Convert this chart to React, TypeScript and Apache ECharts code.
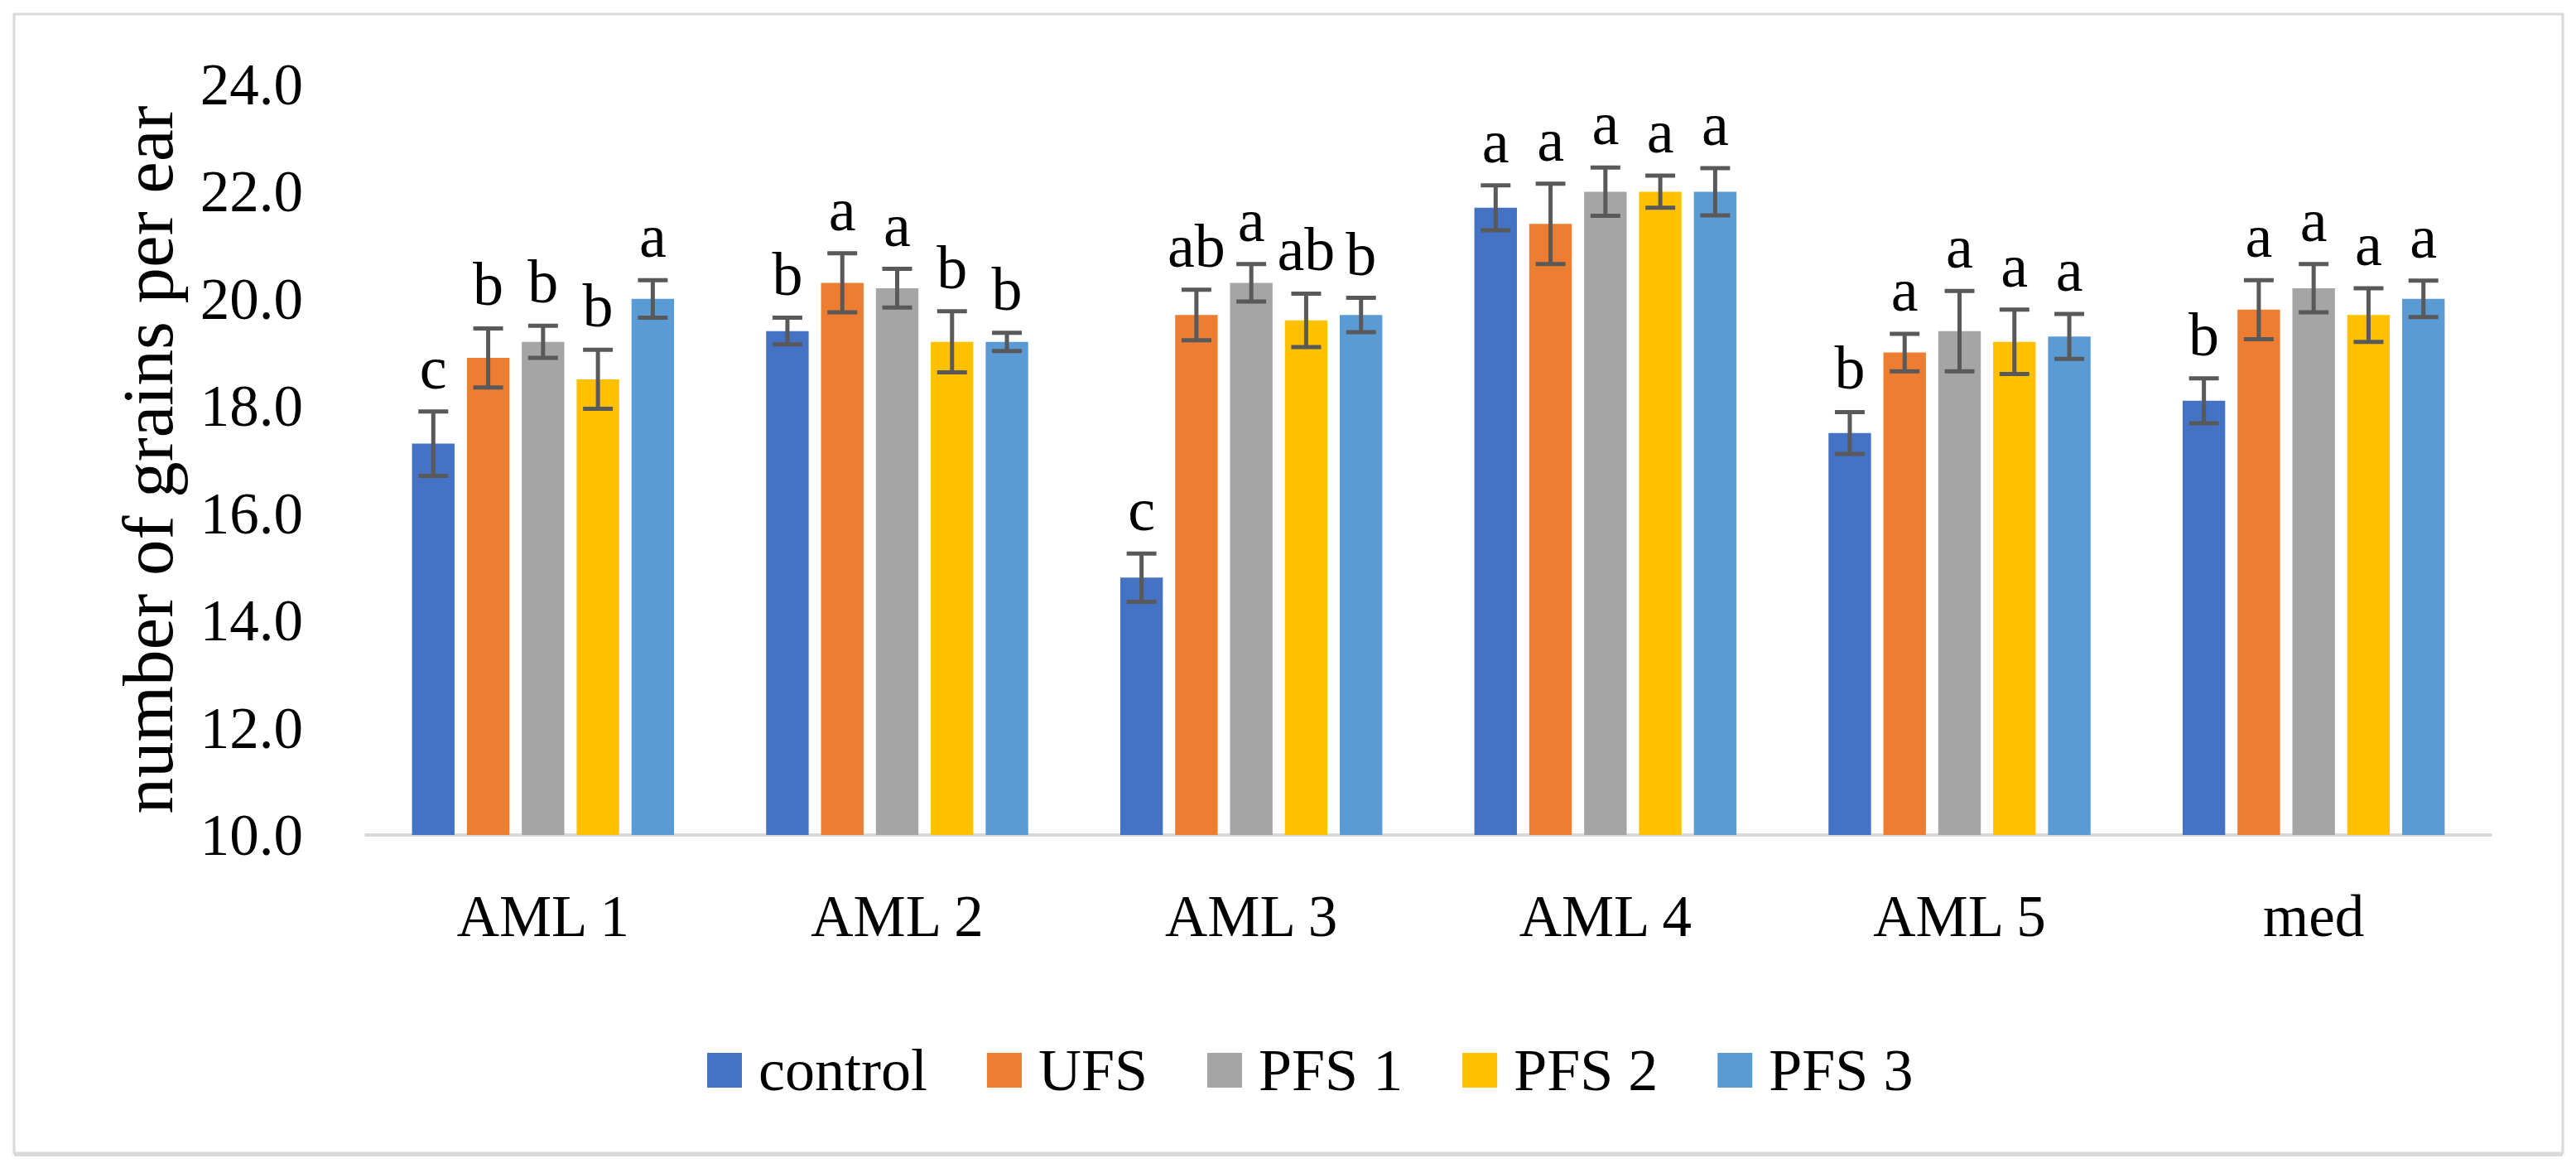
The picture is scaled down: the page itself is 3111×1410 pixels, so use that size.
import React, { useEffect, useRef } from "react";
import * as echarts from "echarts";

const categories = ["AML 1", "AML 2", "AML 3", "AML 4", "AML 5", "med"];
const seriesNames = ["control", "UFS", "PFS 1", "PFS 2", "PFS 3"];
const colors = ["#4472C4", "#ED7D31", "#A5A5A5", "#FFC000", "#5B9BD5"];

const controlVals = [17.3, 19.4, 14.8, 21.7, 17.5, 18.1];
const ufsVals = [18.9, 20.3, 19.7, 21.4, 19.0, 19.8];
const pfs1Vals = [19.2, 20.2, 20.3, 22.0, 19.4, 20.2];
const pfs2Vals = [18.5, 19.2, 19.6, 22.0, 19.2, 19.7];
const pfs3Vals = [20.0, 19.2, 19.7, 22.0, 19.3, 20.0];

const controlErr = [0.6, 0.25, 0.45, 0.42, 0.39, 0.42];
const ufsErr = [0.55, 0.55, 0.47, 0.75, 0.35, 0.55];
const pfs1Err = [0.3, 0.36, 0.35, 0.45, 0.75, 0.45];
const pfs2Err = [0.55, 0.57, 0.5, 0.3, 0.6, 0.5];
const pfs3Err = [0.35, 0.17, 0.32, 0.44, 0.42, 0.34];

const controlLetters = ["c", "b", "c", "a", "b", "b"];
const ufsLetters = ["b", "a", "ab", "a", "a", "a"];
const pfs1Letters = ["b", "a", "a", "a", "a", "a"];
const pfs2Letters = ["b", "b", "ab", "a", "a", "a"];
const pfs3Letters = ["a", "b", "b", "a", "a", "a"];

const yTickMin = 10;
const yTickMax = 24;
const yTickStep = 2;

const allVals = [controlVals, ufsVals, pfs1Vals, pfs2Vals, pfs3Vals];
const allErrs = [controlErr, ufsErr, pfs1Err, pfs2Err, pfs3Err];
const allLetters = [controlLetters, ufsLetters, pfs1Letters, pfs2Letters, pfs3Letters];

const FONT = "'Liberation Serif', 'Times New Roman', serif";
const CAT_GAP = 0.26;
const BAR_GAP = 0.29;

export default function App() {
  const ref = useRef<HTMLDivElement>(null);

  useEffect(() => {
    document.body.style.margin = "0";
    if (!ref.current) return;
    const chart = echarts.init(ref.current, undefined, { renderer: "svg" });
    const N = seriesNames.length;

    const barSeries = seriesNames.map((name, si) => ({
      type: "bar",
      name,
      data: allVals[si],
      barGap: BAR_GAP * 100 + "%",
      barCategoryGap: CAT_GAP * 100 + "%",
      itemStyle: { color: colors[si] },
    }));

    const errSeries = seriesNames.map((name, si) => ({
      type: "custom",
      name: name + " error",
      silent: true,
      z: 10,
      data: categories.map((_, ci) => [
        ci,
        allVals[si][ci] - allErrs[si][ci],
        allVals[si][ci] + allErrs[si][ci],
      ]),
      encode: { x: 0, y: [1, 2] },
      renderItem: (params: any, api: any) => {
        const ci = params.dataIndex;
        const lo = api.coord([ci, api.value(1)]);
        const hi = api.coord([ci, api.value(2)]);
        const catW = api.size([1, 0])[0];
        const barW = (catW * (1 - CAT_GAP)) / (N + (N - 1) * BAR_GAP);
        const x = lo[0] + (si - (N - 1) / 2) * barW * (1 + BAR_GAP);
        const half = barW * 0.35;
        const style = { stroke: "#595959", lineWidth: 5 };
        return {
          type: "group",
          children: [
            { type: "line", shape: { x1: x, y1: lo[1], x2: x, y2: hi[1] }, style },
            { type: "line", shape: { x1: x - half, y1: lo[1], x2: x + half, y2: lo[1] }, style },
            { type: "line", shape: { x1: x - half, y1: hi[1], x2: x + half, y2: hi[1] }, style },
            {
              type: "text",
              x,
              y: hi[1] - 16,
              style: {
                text: allLetters[si][ci],
                fill: "#000",
                fontSize: 74,
                fontFamily: FONT,
                align: "center",
                verticalAlign: "bottom",
                textAlign: "center",
                textVerticalAlign: "bottom",
              },
            },
          ],
        };
      },
    }));

    chart.setOption({
      animation: false,
      backgroundColor: "#fff",
      grid: { left: 442, right: 103, top: 102, bottom: 402, containLabel: false },
      legend: {
        data: seriesNames,
        left: 849,
        top: 1251,
        icon: "rect",
        itemWidth: 42,
        itemHeight: 42,
        itemGap: 72,
        textStyle: { fontSize: 72, fontFamily: FONT, color: "#000", padding: [0, 0, 0, 15] },
      },
      xAxis: {
        type: "category",
        data: categories,
        axisTick: { show: false },
        axisLine: { lineStyle: { color: "#d9d9d9", width: 4 } },
        axisLabel: { fontSize: 71, fontFamily: FONT, color: "#000", margin: 62 },
      },
      yAxis: {
        type: "value",
        min: yTickMin,
        max: yTickMax,
        interval: yTickStep,
        name: "number of grains per ear",
        nameLocation: "middle",
        nameGap: 220,
        nameTextStyle: { fontSize: 87, fontFamily: FONT, color: "#000" },
        axisLine: { show: false },
        axisTick: { show: false },
        splitLine: { show: false },
        axisLabel: {
          fontSize: 71,
          fontFamily: FONT,
          color: "#000",
          margin: 76,
          formatter: (v: number) => v.toFixed(1),
        },
      },
      graphic: [
        {
          type: "rect",
          shape: { x: 17, y: 17, width: 3078, height: 1375 },
          style: { fill: "none", stroke: "#d9d9d9", lineWidth: 3 },
          silent: true,
        },
        {
          type: "line",
          shape: { x1: 17, y1: 1394, x2: 3095, y2: 1394 },
          style: { stroke: "#d9d9d9", lineWidth: 4 },
          silent: true,
        },
      ],
      series: [...barSeries, ...errSeries],
    });

    return () => chart.dispose();
  }, []);

  return <div ref={ref} style={{ width: 3111, height: 1410 }} />;
}
